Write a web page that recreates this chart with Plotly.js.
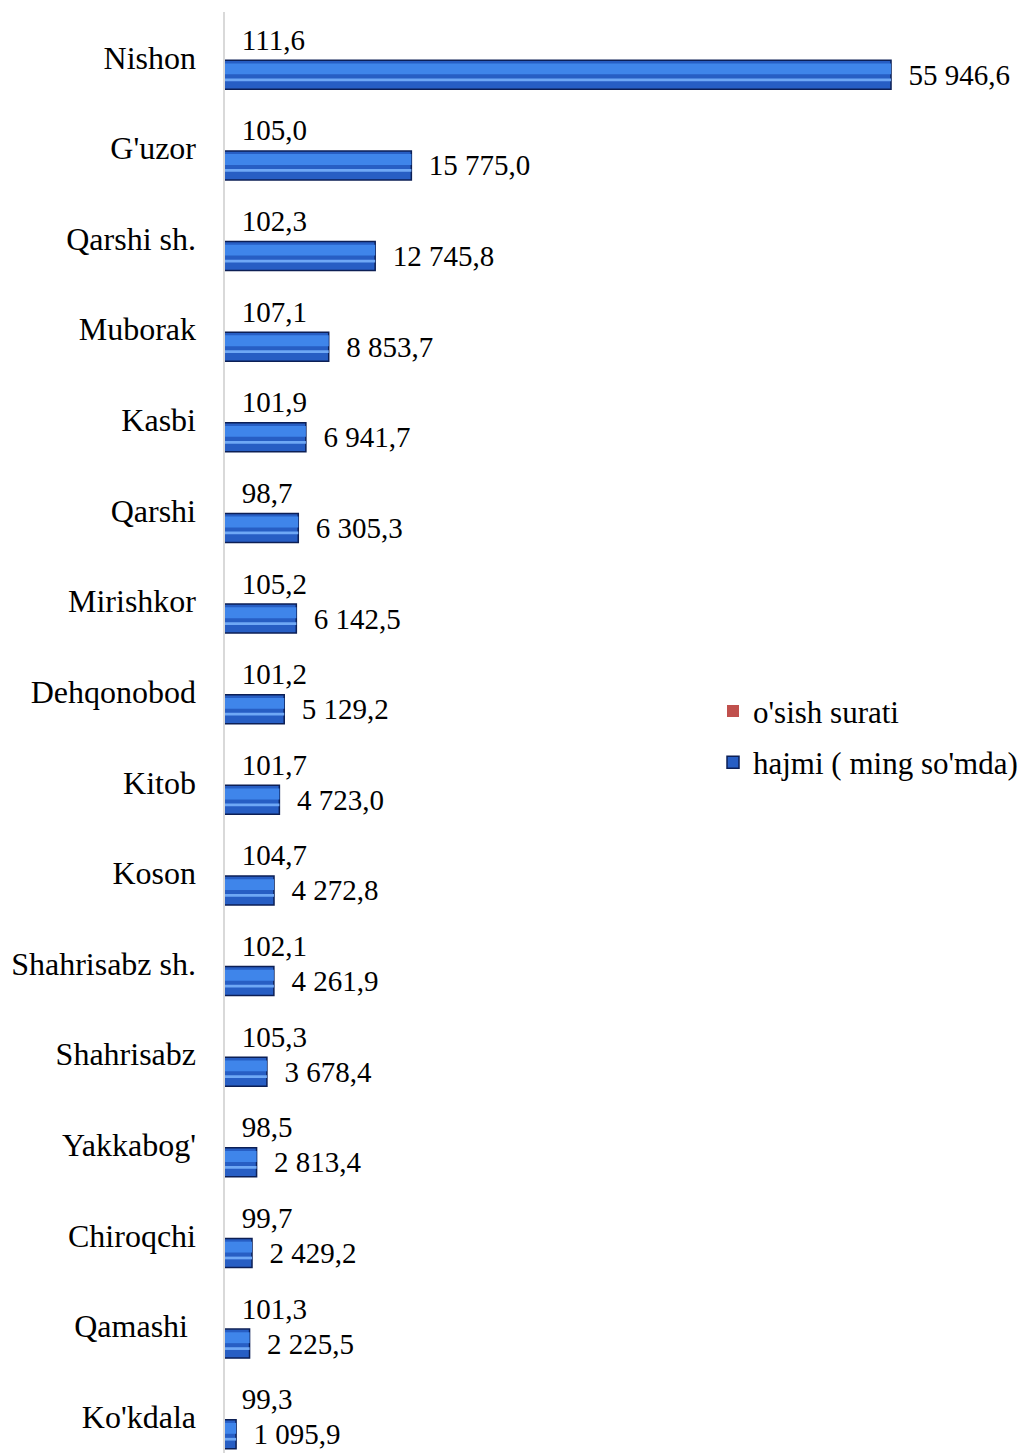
<!DOCTYPE html>
<html>
<head>
<meta charset="utf-8">
<script src="https://cdn.plot.ly/plotly-3.0.1.min.js"></script>
<style>
  html, body { margin: 0; padding: 0; background: #ffffff; }
  #chart { width: 1032px; height: 1453px; }
</style>
</head>
<body>
<div id="chart"></div>
<script>
const categories = ["Nishon", "G'uzor", "Qarshi sh.", "Muborak", "Kasbi", "Qarshi", "Mirishkor", "Dehqonobod", "Kitob", "Koson", "Shahrisabz sh.", "Shahrisabz", "Yakkabog'", "Chiroqchi", "Qamashi\u00a0", "Ko'kdala"];
const growthRate = [111.6, 105.0, 102.3, 107.1, 101.9, 98.7, 105.2, 101.2, 101.7, 104.7, 102.1, 105.3, 98.5, 99.7, 101.3, 99.3];
const volume = [55946.6, 15775.0, 12745.8, 8853.7, 6941.7, 6305.3, 6142.5, 5129.2, 4723.0, 4272.8, 4261.9, 3678.4, 2813.4, 2429.2, 2225.5, 1095.9];
const seriesNames = ["o'sish surati", "hajmi ( ming so'mda)"];

const FONT = "Liberation Serif, Times New Roman, serif";
const barW = 0.32;
const redCenter = -0.193, blueCenter = 0.193;

const traces = [
  {
    type: 'bar', orientation: 'h', name: seriesNames[0],
    y: categories, x: growthRate,
    width: barW, offset: redCenter - barW / 2,
    marker: { color: '#c0504d' },
    texttemplate: '\u00a0\u00a0%{x:.1f}', textposition: 'outside', constraintext: 'none', cliponaxis: false,
    textfont: { family: FONT, size: 29, color: '#000' },
    legendgroup: 'a', hoverinfo: 'skip'
  },
  {
    type: 'bar', orientation: 'h', name: seriesNames[1],
    y: categories, x: volume,
    width: barW, offset: blueCenter - barW / 2,
    marker: { color: '#275ec4', line: { color: '#0c1f55', width: 1.5 } },
    texttemplate: '\u00a0\u00a0%{x:,.1f}', textposition: 'outside', constraintext: 'none', cliponaxis: false,
    textfont: { family: FONT, size: 29, color: '#000' },
    legendgroup: 'b', hoverinfo: 'skip'
  },
  {
    type: 'bar', orientation: 'h', name: 'hl1', showlegend: false,
    y: categories, x: volume,
    width: 0.12, offset: blueCenter - 0.125,
    marker: { color: '#3f85ea', line: { width: 0 } },
    hoverinfo: 'skip'
  },
  {
    type: 'bar', orientation: 'h', name: 'hl2', showlegend: false,
    y: categories, x: volume,
    width: 0.03, offset: blueCenter + 0.04,
    marker: { color: '#6fa8f5', line: { width: 0 } },
    hoverinfo: 'skip'
  }
];

const layout = {
  width: 1032, height: 1453,
  margin: { l: 223, r: 9, t: 12, b: 0 },
  paper_bgcolor: '#ffffff', plot_bgcolor: '#ffffff',
  separators: ', ',
  barmode: 'overlay',
  font: { family: FONT, size: 31, color: '#000' },
  showlegend: true,
  legend: {
    x: 0.6125, xanchor: 'left', y: 0.497, yanchor: 'middle',
    font: { family: FONT, size: 31, color: '#000' },
    bgcolor: 'rgba(0,0,0,0)', traceorder: 'grouped', tracegroupgap: 8
  },
  xaxis: { range: [0, 67000], visible: false, showgrid: false, zeroline: false, fixedrange: true },
  yaxis: {
    type: 'category', categoryorder: 'array', categoryarray: categories,
    range: [15.4, -0.5],
    showline: false,
    showgrid: false, zeroline: false, ticks: '',
    ticklabelstandoff: 26,
    tickfont: { family: FONT, size: 32, color: '#000' },
    fixedrange: true
  },
  shapes: [
    { type: 'line', layer: 'above', xref: 'x', yref: 'paper', x0: 0, x1: 0, y0: 0, y1: 1,
      line: { color: '#d9d9d9', width: 4 } }
  ]
};

Plotly.newPlot('chart', traces, layout, { displayModeBar: false, staticPlot: true });
</script>
</body>
</html>
